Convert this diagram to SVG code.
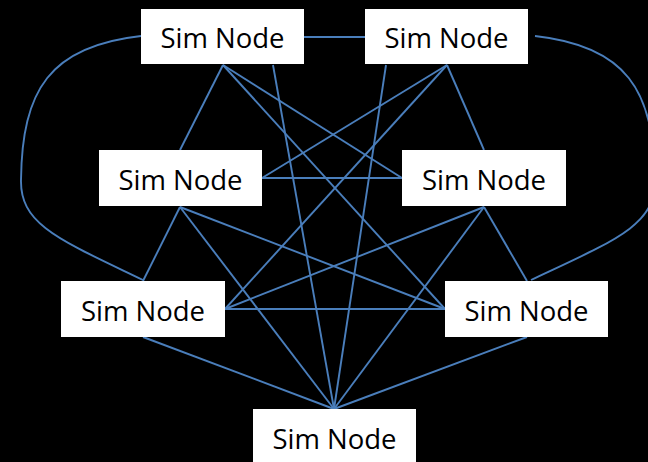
<svg xmlns="http://www.w3.org/2000/svg" width="648" height="462" viewBox="0 0 648 462">
<style>
.bg{fill:#000}
.e{stroke:#4A7EBB;stroke-width:1.9;fill:none}
.n rect{fill:#fff}
.n text{font-family:"Open Sans","Noto Sans","Liberation Sans",sans-serif;font-size:27.5px;fill:#000;text-anchor:middle}
</style>
<rect class="bg" x="0" y="0" width="648" height="462"/>
<g id="connectors">
<path class="e" d="M304,37 L365,37"/>
<path class="e" d="M262,178 L402,178"/>
<path class="e" d="M225,309 L445,309"/>
<path class="e" d="M223,65 L180,150"/>
<path class="e" d="M223,65 L402,178"/>
<path class="e" d="M223,65 L445,309"/>
<path class="e" d="M273,65 L334,409"/>
<path class="e" d="M386,65 L334,409"/>
<path class="e" d="M447,65 L484,150"/>
<path class="e" d="M447,65 L262,178"/>
<path class="e" d="M447,65 L225,309"/>
<path class="e" d="M180,207 L143,281"/>
<path class="e" d="M180,207 L334,409"/>
<path class="e" d="M180,207 L445,309"/>
<path class="e" d="M484,207 L225,309"/>
<path class="e" d="M484,207 L334,409"/>
<path class="e" d="M484,207 L527,281"/>
<path class="e" d="M143,337 L334,409"/>
<path class="e" d="M527,337 L334,409"/>
<path class="e" d="M141,36 C50,46 22,90 21,180 C20,225 60,240 143,280"/>
<path class="e" d="M535,36 C626,46 654,90 655,180 C656,225 616,240 531,280"/>
</g>
<g id="node1" class="n"><rect x="141" y="9" width="163" height="55"/><text x="222.5" y="48">Sim Node</text></g>
<g id="node2" class="n"><rect x="365" y="9" width="163" height="55"/><text x="446.5" y="48">Sim Node</text></g>
<g id="node3" class="n"><rect x="99" y="150" width="163" height="56"/><text x="180.5" y="189.5">Sim Node</text></g>
<g id="node4" class="n"><rect x="402" y="150" width="164" height="56"/><text x="484" y="189.5">Sim Node</text></g>
<g id="node5" class="n"><rect x="61" y="281" width="164" height="56"/><text x="143" y="320.5">Sim Node</text></g>
<g id="node6" class="n"><rect x="445" y="281" width="163" height="56"/><text x="526.5" y="320.5">Sim Node</text></g>
<g id="node7" class="n"><rect x="253" y="409" width="163" height="56"/><text x="334.5" y="448.5">Sim Node</text></g>
</svg>
